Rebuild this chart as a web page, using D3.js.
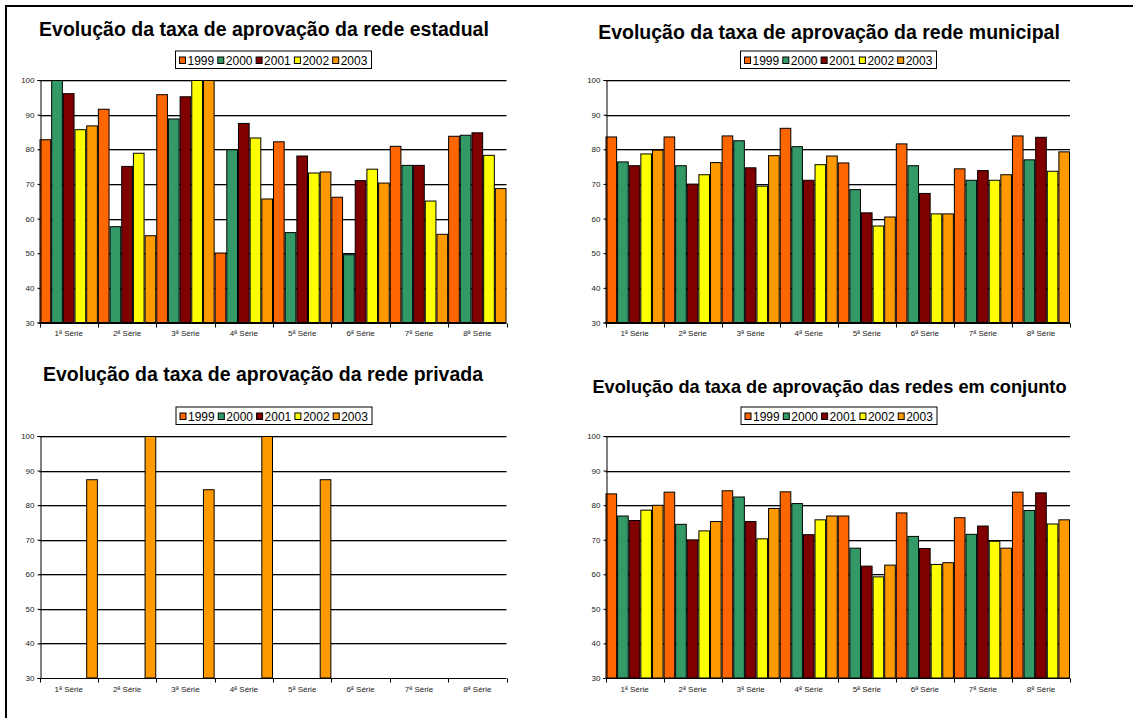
<!DOCTYPE html>
<html>
<head>
<meta charset="utf-8">
<script src="https://cdn.jsdelivr.net/npm/d3@7"></script>
<style>
  html, body { margin: 0; padding: 0; background: #fff; }
  svg { display: block; }
  text { font-family: "Liberation Sans", Arial, Helvetica, sans-serif; }
</style>
</head>
<body>
<svg id="chart" width="1133" height="718"></svg>
<script>
// ---------- DATA ----------
const categories = ["1ª Série", "2ª Série", "3ª Série", "4ª Série", "5ª Série", "6ª Série", "7ª Série", "8ª Série"];
const years = ["1999", "2000", "2001", "2002", "2003"];
const yTicks = [30, 40, 50, 60, 70, 80, 90, 100];

// rows = years (1999..2003), columns = categories
const estadual = [
  [82.9, 91.7, 95.9, 50.2, 82.3, 66.3, 81.0, 83.9],
  [100.0, 57.8, 88.9, 80.0, 56.1, 49.7, 75.5, 84.2],
  [96.2, 75.2, 95.3, 87.6, 78.2, 71.1, 75.5, 84.9],
  [85.8, 79.0, 100.0, 83.4, 73.3, 74.4, 65.2, 78.4],
  [86.9, 55.2, 100.0, 65.8, 73.6, 70.4, 55.6, 68.8]
];
const municipal = [
  [83.7, 83.7, 84.0, 86.2, 76.2, 81.7, 74.5, 84.0],
  [76.5, 75.4, 82.6, 80.9, 68.5, 75.4, 71.2, 77.1],
  [75.4, 70.1, 74.8, 71.2, 61.8, 67.4, 74.0, 83.6],
  [78.8, 72.8, 69.5, 75.7, 58.0, 61.5, 71.2, 73.8],
  [79.9, 76.3, 78.3, 78.2, 60.6, 61.5, 72.8, 79.4]
];
const privada = [
  [null, null, null, null, null, null, null, null],
  [null, null, null, null, null, null, null, null],
  [null, null, null, null, null, null, null, null],
  [null, null, null, null, null, null, null, null],
  [87.5, 100.0, 84.6, 100.0, 87.5, null, null, null]
];
const conjunto = [
  [83.4, 83.9, 84.3, 84.0, 77.0, 77.9, 76.5, 83.9],
  [77.0, 74.6, 82.5, 80.6, 67.7, 71.1, 71.7, 78.6],
  [75.7, 70.1, 75.4, 71.6, 62.5, 67.6, 74.1, 83.7],
  [78.7, 72.7, 70.4, 75.9, 59.4, 63.0, 69.7, 74.7],
  [80.1, 75.4, 79.2, 77.0, 62.8, 63.5, 67.7, 75.9]
];
const titles = [
  "Evolução da taxa de aprovação da rede estadual",
  "Evolução da taxa de aprovação da rede municipal",
  "Evolução da taxa de aprovação da rede privada",
  "Evolução da taxa de aprovação das redes em conjunto"
];
const seriesColors = ["#FF6600", "#339966", "#800000", "#FFFF00", "#FF9900"];

// ---------- LAYOUT ----------
const panels = [
  { data: estadual, title: titles[0], x0: 39.5, x1: 506.5, yTop: 80, yBot: 322.5,
    tx: 264, ty: 36, tsize: 19.5, lx: 175, ly: 50.5, labelY: 336 },
  { data: municipal, title: titles[1], x0: 605.5, x1: 1070, yTop: 80, yBot: 322.5,
    tx: 829, ty: 39, tsize: 19.5, lx: 740, ly: 50.5, labelY: 336 },
  { data: privada, title: titles[2], x0: 39.5, x1: 506.5, yTop: 436, yBot: 678,
    tx: 263, ty: 381, tsize: 19.5, lx: 175.5, ly: 406.5, labelY: 692 },
  { data: conjunto, title: titles[3], x0: 605.5, x1: 1070, yTop: 436, yBot: 678,
    tx: 829.5, ty: 393, tsize: 18.2, lx: 740.5, ly: 406.5, labelY: 692 }
];

const svg = d3.select("#chart");
svg.append("rect").attr("width", 1133).attr("height", 718).attr("fill", "#fff");

// outer frame (top and left edges visible)
svg.append("path")
  .attr("d", "M6,718 L6,6 L1133,6")
  .attr("fill", "none").attr("stroke", "#000").attr("stroke-width", 2);

panels.forEach(p => {
  const g = svg.append("g");
  const x = d3.scaleBand().domain(categories).range([p.x0, p.x1]).paddingInner(0).paddingOuter(0);
  const xs = d3.scaleBand().domain(years).range([0, x.bandwidth()]).padding(0);
  const y = d3.scaleLinear().domain([30, 100]).range([p.yBot, p.yTop]);

  // title
  g.append("text")
    .attr("x", p.tx).attr("y", p.ty)
    .attr("text-anchor", "middle")
    .attr("font-weight", "bold")
    .attr("font-size", p.tsize + "px")
    .attr("fill", "#000")
    .text(p.title);

  // gridlines (with a light shadow line)
  yTicks.filter(t => t > 30).forEach(t => {
    const yy = Math.round(y(t)) + 0.5;
    g.append("line").attr("x1", p.x0).attr("x2", p.x1).attr("y1", yy + 1).attr("y2", yy + 1)
      .attr("stroke", "#b0b0b0").attr("stroke-width", 1);
    g.append("line").attr("x1", p.x0).attr("x2", p.x1).attr("y1", yy).attr("y2", yy)
      .attr("stroke", "#000").attr("stroke-width", 1);
  });

  // bars
  years.forEach((yr, si) => {
    const vals = p.data[si];
    g.append("g").selectAll("rect")
      .data(categories.map((c, ci) => ({ c, v: vals[ci] })).filter(d => d.v != null))
      .join("rect")
      .attr("x", d => x(d.c) + xs(yr) + 0.5)
      .attr("y", d => y(d.v) + 0.5)
      .attr("width", xs.bandwidth() - 1)
      .attr("height", d => y(30) - y(d.v) - 0.5)
      .attr("fill", seriesColors[si])
      .attr("stroke", "#000")
      .attr("stroke-width", 1);
  });

  // y axis
  const ya = g.append("g")
    .attr("transform", `translate(${Math.round(p.x0) + 0.5},0)`)
    .call(d3.axisLeft(y).tickValues(yTicks).tickSize(3).tickPadding(3).tickFormat(d3.format("d")));
  ya.select(".domain").attr("stroke", "#000");
  ya.selectAll(".tick line").attr("stroke", "#000");
  ya.selectAll(".tick text")
    .attr("font-family", "'Liberation Sans', Arial, sans-serif")
    .attr("font-size", "8px").attr("fill", "#222");

  // x axis
  const xa = g.append("g")
    .attr("transform", `translate(0,${Math.round(p.yBot) + 0.5})`)
    .call(d3.axisBottom(x).tickSize(0).tickPadding(0));
  xa.select(".domain").attr("stroke", "#000").attr("d", `M${p.x0},0H${p.x1}`);
  xa.selectAll(".tick text")
    .attr("font-family", "'Liberation Sans', Arial, sans-serif")
    .attr("font-size", "8px").attr("fill", "#222")
    .attr("y", p.labelY - Math.round(p.yBot) - 0.5).attr("dy", 0);
  // boundary ticks
  const bounds = categories.map(c => x(c)).concat([p.x1]);
  xa.append("g").selectAll("line").data(bounds).join("line")
    .attr("x1", d => Math.round(d) + 0.5).attr("x2", d => Math.round(d) + 0.5)
    .attr("y1", 0).attr("y2", 4).attr("stroke", "#000");

  // legend
  const itemW = 38.3;
  const lw = years.length * itemW + 4.5;
  const lg = g.append("g").attr("transform", `translate(${p.lx},${p.ly})`);
  lg.append("rect").attr("x", 0.5).attr("y", 0.5).attr("width", lw).attr("height", 17.5)
    .attr("fill", "#fff").attr("stroke", "#000").attr("stroke-width", 1);
  years.forEach((yr, i) => {
    const ix = 4 + i * itemW;
    lg.append("rect").attr("x", ix + 0.5).attr("y", 6.5).attr("width", 6).attr("height", 6.5)
      .attr("fill", seriesColors[i]).attr("stroke", "#000").attr("stroke-width", 1);
    lg.append("text").attr("x", ix + 8.5).attr("y", 14.5)
      .attr("font-size", "12px").attr("fill", "#000").text(yr);
  });
});
</script>
</body>
</html>
